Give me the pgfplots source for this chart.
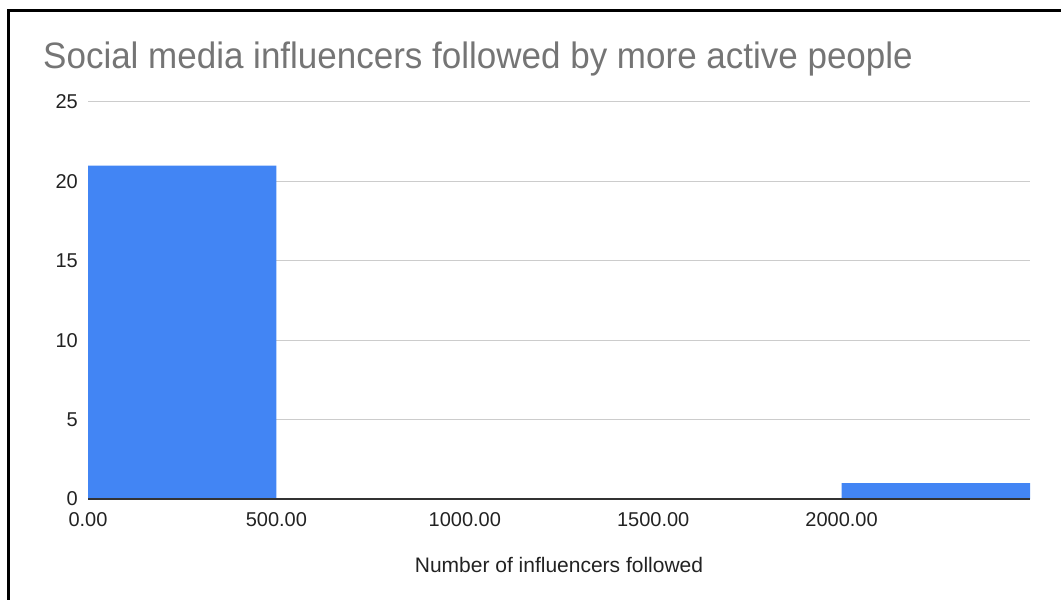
\documentclass[border=0pt]{standalone}
\usepackage{pgfplots}
\pgfplotsset{compat=1.18}
\usepackage{fontspec}
\setmainfont{Liberation Sans}
\definecolor{barblue}{HTML}{4285F4}
\definecolor{titlegray}{HTML}{757575}
\definecolor{gridgray}{HTML}{CCCCCC}
\definecolor{axisdark}{HTML}{333333}
\definecolor{textdark}{HTML}{222222}
\begin{document}
\begin{tikzpicture}[x=1pt,y=1pt]
\useasboundingbox (0,0) rectangle (1061,600);
\draw[line width=3pt] (8.5,0) -- (8.5,589) -- (1061,589);
\begin{axis}[
  at={(88pt,101pt)}, anchor=south west,
  scale only axis, width=942pt, height=397pt,
  xmin=0, xmax=2500, ymin=0, ymax=25,
  axis lines*=left,
  y axis line style={draw=none},
  x axis line style={draw=axisdark, line width=1.2pt},
  major tick length=0pt,
  xtick={0,500,1000,1500,2000},
  ytick={0,5,10,15,20,25},
  ymajorgrids,
  grid style={gridgray, line width=1pt},
  /pgf/number format/assume math mode=true,
  xticklabel style={/pgf/number format/fixed, /pgf/number format/fixed zerofill, /pgf/number format/precision=2, /pgf/number format/1000 sep={}, yshift=-13pt},
  ticklabel style={font=\fontsize{20}{24}\selectfont, text=textdark, inner sep=0pt},
  yticklabel style={xshift=-10pt},
  xlabel={Number of influencers followed},
  xlabel style={at={(axis description cs:0.5,0)}, anchor=base, yshift=-73pt, font=\fontsize{21}{25}\selectfont, text=textdark, inner sep=0pt},
  title={\scalebox{1}[1.05]{Social media influencers followed by more active people}},
  title style={at={(axis description cs:0,1)}, anchor=base west, xshift=-45pt, yshift=27pt, font=\fontsize{35}{40}\selectfont, text=titlegray, inner sep=0pt},
]
\addplot[ybar interval, fill=barblue, draw=none] coordinates {(0,21) (500,0) (1000,0) (1500,0) (2000,1) (2500,1)};
\draw[axisdark, line width=1.2pt] (axis cs:0,0) -- (axis cs:2500,0);
\end{axis}
\end{tikzpicture}
\end{document}
